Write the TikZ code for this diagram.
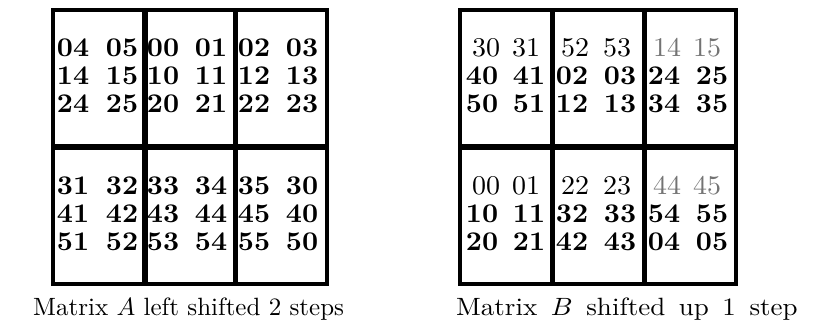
\documentclass[tikz,border=0pt]{standalone}
\usepackage{graphicx}
\newcommand\bigtxt[1]{\scalebox{2.8}[2.7]{#1}}
\tikzset{
  outer/.style={line width=3.8pt},
  inner/.style={line width=5.4pt},
  numb/.style={anchor=base, inner sep=0pt, font=\bfseries},
  rnumb/.style={anchor=base, inner sep=0pt},
  captxt/.style={anchor=base west, inner sep=0pt}
}
\begin{document}
\begin{tikzpicture}[x=1pt,y=-1pt]
\useasboundingbox (0,0) rectangle (831,326);
% ---------- Matrix A ----------
\draw[inner] (145,10) -- (145,284);
\draw[inner] (235.5,10) -- (235.5,284);
\draw[inner] (53,147) -- (327,147);
\draw[outer] (53,10) rectangle (327,284);
\foreach \y/\vals [count=\r] in {57/{04,05,00,01,02,03},85/{14,15,10,11,12,13},113/{24,25,20,21,22,23},
  195/{31,32,33,34,35,30},223/{41,42,43,44,45,40},251/{51,52,53,54,55,50}}{
  \foreach \v [count=\c] in \vals {
    \pgfmathsetmacro\xx{{73,122,163,211,254,302}[\c-1]}
    \node[numb] (A-\r-\c) at (\xx,\y) {\bigtxt{\v}};
  }
}
\node[captxt] (capA) at (33,316) {\scalebox{2.5}{Matrix $A$ left shifted 2 steps}};
% ---------- Matrix B ----------
\draw[inner] (552.5,10) -- (552.5,284);
\draw[inner] (644.5,10) -- (644.5,284);
\draw[inner] (460,147) -- (736,147);
\draw[outer] (460,10) rectangle (736,284);
\foreach \y/\vals [count=\r] in {85/{40,41,02,03,24,25},113/{50,51,12,13,34,35},
  223/{10,11,32,33,54,55},251/{20,21,42,43,04,05}}{
  \foreach \v [count=\c] in \vals {
    \pgfmathsetmacro\xx{{482,529,572,620,664,712}[\c-1]}
    \node[numb] (B-\r-\c) at (\xx,\y) {\bigtxt{\v}};
  }
}
\foreach \y/\vals [count=\r] in {57/{30,31,52,53,14,15},195/{00,01,22,23,44,45}}{
  \foreach \v [count=\c] in \vals {
    \pgfmathsetmacro\xx{{486,526,575,617,667,707}[\c-1]}
    \ifnum\c>4 \def\cc{black!55}\else\def\cc{black}\fi
    \node[rnumb, text=\cc] (R-\r-\c) at (\xx,\y) {\bigtxt{\v}};
  }
}
\node[captxt] (capB) at (456,316) {\scalebox{2.7}[2.5]{\makebox[126.5pt][s]{Matrix $B$ shifted up 1 step}}};
\end{tikzpicture}
\end{document}
